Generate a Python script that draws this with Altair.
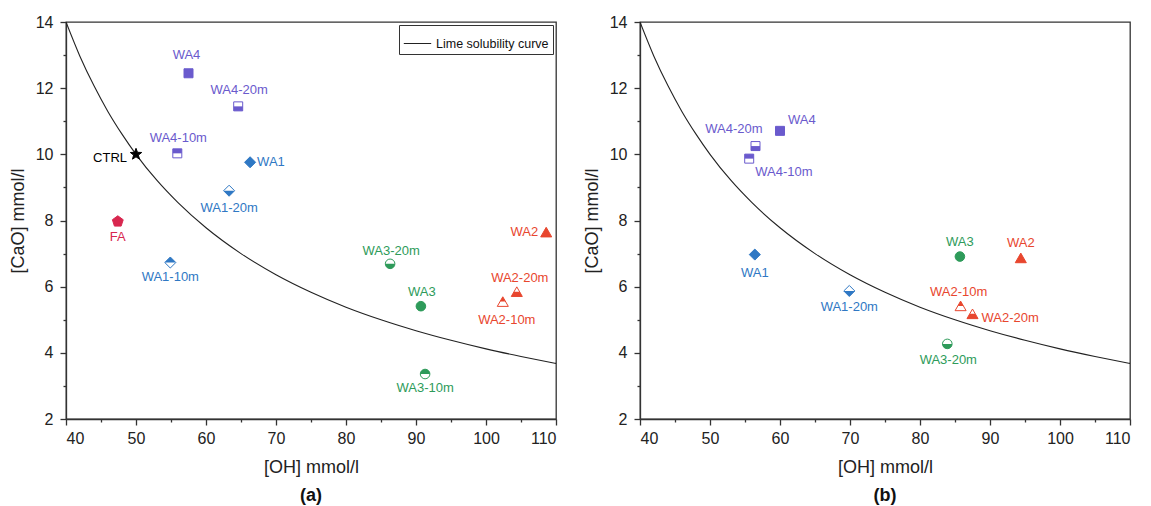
import math
import altair as alt
import pandas as pd

# ---------------- data ----------------
# panel (a)
A_NAMES = ["WA4", "WA4-20m", "WA4-10m", "CTRL", "WA1", "WA1-20m", "FA", "WA2",
           "WA1-10m", "WA3-20m", "WA3", "WA2-20m", "WA2-10m", "WA3-10m"]
A_OH = [57.5, 64.6, 55.9, 50.0, 66.3, 63.3, 47.4, 108.6, 54.9, 86.3, 90.7, 104.4, 102.4, 91.3]
A_CAO = [12.45, 11.45, 10.03, 10.0, 9.76, 8.9, 7.97, 7.64, 6.73, 6.69, 5.41, 5.84, 5.54, 3.36]

# panel (b)
B_NAMES = ["WA4", "WA4-20m", "WA4-10m", "WA1", "WA1-20m", "WA3", "WA2", "WA2-10m", "WA2-20m", "WA3-20m"]
B_OH = [60.0, 56.5, 55.6, 56.4, 69.9, 85.7, 94.4, 85.8, 87.5, 83.9]
B_CAO = [10.71, 10.25, 9.87, 6.97, 5.87, 6.91, 6.86, 5.41, 5.17, 4.27]

# lime solubility curve
CURVE_NAME = "Lime solubility curve"
CURVE_OH = [40, 42, 44, 46, 48, 50, 53, 56, 60, 65, 70, 75, 80, 85, 90, 95, 100, 105, 110]
CURVE_CAO = [14.0, 12.96, 12.07, 11.29, 10.61, 10.0, 9.21, 8.54, 7.78, 7.0, 6.36, 5.83,
             5.38, 5.0, 4.67, 4.38, 4.12, 3.89, 3.68]

# ---------------- styles ----------------
GROUPS = ["WA1", "WA2", "WA3", "WA4", "FA", "CTRL"]
COLORS = ["#2f78c4", "#e8462e", "#2e9b5a", "#6a5acd", "#d8274f", "#000000"]
FONT = "Liberation Sans"
AXIS_COLOR = "#333333"


def poly(pts):
    return "M" + "L".join(f"{x:.3f},{y:.3f}" for x, y in pts) + "Z"


def star_path(ro=1.0, ri=0.42):
    pts = []
    for k in range(10):
        r = ro if k % 2 == 0 else ri
        a = math.radians(-90 + 36 * k)
        pts.append((r * math.cos(a), r * math.sin(a)))
    return poly(pts)


def pentagon_path(r=0.95):
    pts = []
    for k in range(5):
        a = math.radians(-90 + 72 * k)
        pts.append((r * math.cos(a), r * math.sin(a)))
    return poly(pts)


s = 0.75  # square half side
d = 0.92  # diamond half diagonal
c = 0.8   # circle radius
SHAPES = {
    "WA4:full": poly([(-s, -s), (s, -s), (s, s), (-s, s)]),
    "WA4:bottom": poly([(-s, 0), (s, 0), (s, s), (-s, s)]),
    "WA4:top": poly([(-s, -s), (s, -s), (s, 0), (-s, 0)]),
    "WA1:full": poly([(0, -d), (d, 0), (0, d), (-d, 0)]),
    "WA1:bottom": poly([(-d, 0), (d, 0), (0, d)]),
    "WA1:top": poly([(-d, 0), (0, -d), (d, 0)]),
    "WA3:full": f"M{c},0A{c},{c} 0 1,1 {-c},0A{c},{c} 0 1,1 {c},0Z",
    "WA3:bottom": f"M{-c},0A{c},{c} 0 0,0 {c},0Z",
    "WA3:top": f"M{-c},0A{c},{c} 0 0,1 {c},0Z",
    "WA2:full": poly([(0, -0.85), (0.92, 0.75), (-0.92, 0.75)]),
    "WA2:bottom": poly([(-0.46, -0.05), (0.46, -0.05), (0.92, 0.75), (-0.92, 0.75)]),
    "WA2:top": poly([(0, -0.85), (0.46, -0.05), (-0.46, -0.05)]),
    "FA:full": pentagon_path(),
    "CTRL:full": star_path(),
}
SHAPE_KEYS = list(SHAPES.keys())
SHAPE_PATHS = [SHAPES[k] for k in SHAPE_KEYS]

# label placement: name -> (align, dx, dy)
LABELS_A = {
    "WA4": ("center", -2, -18), "WA4-20m": ("center", 1, -16), "WA4-10m": ("center", 1, -15),
    "CTRL": ("right", -9, 4), "WA1": ("left", 7, 0), "WA1-20m": ("center", 0, 17),
    "FA": ("center", 0, 16), "WA2": ("right", -8, 0), "WA1-10m": ("center", 0, 14),
    "WA3-20m": ("center", 1, -13), "WA3": ("center", 1, -14), "WA2-20m": ("center", 3, -14),
    "WA2-10m": ("center", 4, 18), "WA3-10m": ("center", 0, 14),
}
LABELS_B = {
    "WA4": ("left", 8, -11), "WA4-20m": ("right", 7, -17), "WA4-10m": ("left", 6, 13),
    "WA1": ("center", 0, 18), "WA1-20m": ("center", 0, 16), "WA3": ("center", 0, -15),
    "WA2": ("center", 0, -15), "WA2-10m": ("center", -2, -14), "WA2-20m": ("left", 9, 4),
    "WA3-20m": ("center", 1, 16),
}


def part_of(name):
    if name.endswith("-20m"):
        return "bottom"
    if name.endswith("-10m"):
        return "top"
    return "full"


x_axis = alt.Axis(
    values=list(range(40, 111, 5)),
    labelExpr="datum.value % 10 === 0 ? datum.label : ''",
    tickSize={"condition": {"test": "datum.value % 10 === 0", "value": 6}, "value": 3},
    title="[OH] mmol/l", grid=False, labelPadding=5, titlePadding=12,
)
y_axis = alt.Axis(
    values=list(range(2, 15, 1)),
    labelExpr="datum.value % 2 === 0 ? datum.label : ''",
    tickSize={"condition": {"test": "datum.value % 2 === 0", "value": 6}, "value": 3},
    title="[CaO] mmol/l", grid=False, labelPadding=7, titlePadding=8,
)
X = alt.X("OH:Q", scale=alt.Scale(domain=[40, 110], nice=False, zero=False), axis=x_axis)
Y = alt.Y("CaO:Q", scale=alt.Scale(domain=[2, 14], nice=False, zero=False), axis=y_axis)
COLOR = alt.Color("group:N", scale=alt.Scale(domain=GROUPS, range=COLORS), legend=None)


def panel(names, oh, cao, labels, tag, with_legend):
    df = pd.DataFrame({"name": names, "OH": oh, "CaO": cao})
    df["group"] = [n.split("-")[0] for n in names]
    df["fillkey"] = [f"{n.split('-')[0]}:{part_of(n)}" for n in names]
    df["outkey"] = [f"{n.split('-')[0]}:full" for n in names]

    curve = pd.DataFrame({"OH": CURVE_OH, "CaO": CURVE_CAO, "series": [CURVE_NAME] * len(CURVE_OH)})
    line = alt.Chart(curve).mark_line(clip=True, interpolate="monotone", strokeWidth=1.1)
    if with_legend:
        line = line.encode(
            x=X, y=Y,
            stroke=alt.Stroke("series:N", scale=alt.Scale(domain=[CURVE_NAME], range=["#222222"]),
                              legend=alt.Legend(title=None, orient="top-right", offset=3,
                                                strokeColor=AXIS_COLOR, fillColor="white",
                                                padding=4, labelFontSize=12.5, labelFont=FONT,
                                                labelColor="#111111", symbolType="stroke",
                                                symbolSize=750, symbolStrokeWidth=1,
                                                symbolStrokeColor="#222222")),
        )
    else:
        line = line.encode(x=X, y=Y, color=alt.value("#222222"))

    base = alt.Chart(df)
    fill = base.mark_point(filled=True, opacity=1, size=144, strokeWidth=0).encode(
        x=X, y=Y, color=COLOR,
        shape=alt.Shape("fillkey:N", scale=alt.Scale(domain=SHAPE_KEYS, range=SHAPE_PATHS), legend=None),
    )
    outline = base.mark_point(filled=False, opacity=1, size=144, strokeWidth=1).encode(
        x=X, y=Y, color=COLOR,
        shape=alt.Shape("outkey:N", scale=alt.Scale(domain=SHAPE_KEYS, range=SHAPE_PATHS), legend=None),
    )

    layers = [line, fill, outline]
    specs = {}
    for n, spec in labels.items():
        specs.setdefault(spec, []).append(n)
    for (align, dx, dy), group_names in specs.items():
        layers.append(
            base.transform_filter(alt.FieldOneOfPredicate(field="name", oneOf=group_names))
            .mark_text(align=align, baseline="middle", dx=dx, dy=dy, fontSize=13, font=FONT)
            .encode(x=X, y=Y, text="name:N", color=COLOR)
        )
    return alt.layer(*layers).properties(
        width=490, height=397,
        title=alt.TitleParams(tag, orient="bottom", fontSize=18, fontWeight="bold",
                              font=FONT, color="#111111", offset=11),
    )


left = panel(A_NAMES, A_OH, A_CAO, LABELS_A, "(a)", True)
right = panel(B_NAMES, B_OH, B_CAO, LABELS_B, "(b)", False)

chart = (
    alt.hconcat(left, right, spacing=24)
    .resolve_scale(stroke="independent")
    .resolve_legend(stroke="independent")
    .properties(padding={"left": 8, "top": 13, "right": 5, "bottom": 1}, background="white")
    .configure_view(stroke=AXIS_COLOR, strokeWidth=1.3)
    .configure_axis(
        domainColor=AXIS_COLOR, domainWidth=1.3, tickColor=AXIS_COLOR, tickWidth=1.3,
        labelFont=FONT, labelFontSize=16, labelColor="#222222",
        titleFont=FONT, titleFontSize=18, titleFontWeight="normal", titleColor="#222222",
    )
)

chart.save("out.html", embed_options={"renderer": "svg", "actions": False})
